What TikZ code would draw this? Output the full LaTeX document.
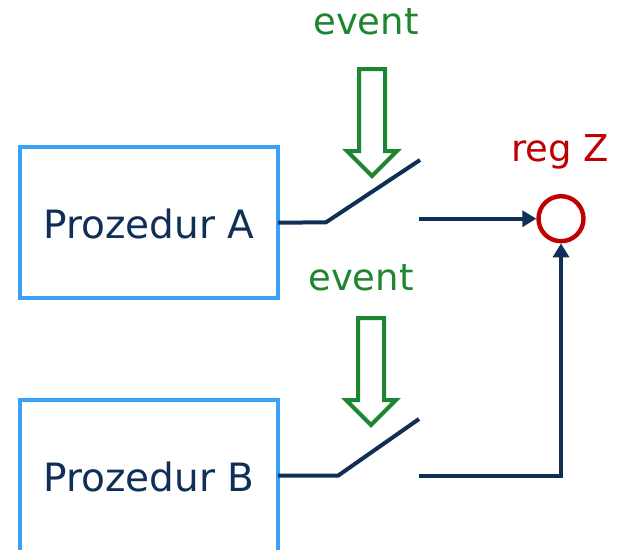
\documentclass[tikz,border=0pt]{standalone}
\usepackage{fontspec}
\setmainfont{DejaVu Sans}
\usetikzlibrary{arrows.meta}
\definecolor{navy}{HTML}{0F2F57}
\definecolor{boxblue}{HTML}{3BA0F8}
\definecolor{evgreen}{HTML}{1E8530}
\definecolor{regred}{HTML}{C00000}
\tikzset{
 x=1pt,y=-1pt,
 wire/.style={draw=navy,line width=4pt},
 conn/.style={wire,-{Triangle[length=14pt,width=16pt]}},
 procbox/.style={draw=boxblue,line width=4.2pt,fill=white,anchor=north west,inner sep=0pt,minimum width=258pt,minimum height=151pt},
 lab/.style={font=\fontsize{39}{44}\selectfont,inner sep=0pt,text=navy},
 evlab/.style={font=\fontsize{37}{42}\selectfont,inner sep=0pt,text=evgreen},
 evarrow/.style={draw=evgreen,line width=4pt,fill=white,line join=miter},
}
\begin{document}
\begin{tikzpicture}
\useasboundingbox (0,0) rectangle (617,549);
\begin{scope}
\clip (0,0) rectangle (617,549);
\node[procbox] (A) at (18,145) {};
\node[procbox,minimum height=175pt] (B) at (18,398) {};
\end{scope}
\node[lab] (la) at (149,224) {Prozedur A};
\node[lab] (lb) at (149,477) {Prozedur B};
\node[evlab] (e1) at (366,22) {event};
\node[evlab] (e2) at (361,278) {event};
\node[font=\fontsize{37}{42}\selectfont,inner sep=0pt,text=regred] (rz) at (560,152) {reg Z};
\node[circle,draw=regred,line width=4.4pt,minimum size=45pt,inner sep=0pt] (reg) at (561,218.7) {};
\coordinate (a1) at (278,222.7);
\coordinate (a2) at (326,222.3);
\coordinate (a3) at (420,160);
\coordinate (a4) at (419,218.7);
\coordinate (b1) at (278,475.7);
\coordinate (b2) at (338,475.7);
\coordinate (b3) at (419,419);
\coordinate (b4) at (419,475.5);
\coordinate (b5) at (561,475.5);
\draw[wire,line join=round] (a1) -- (a2) -- (a3);
\draw[wire,line join=round] (b1) -- (b2) -- (b3);
\draw[conn] (a4) -- (reg.west);
\draw[conn] (b4) -- (b5) -- (reg.south);
\draw[evarrow] (359,69) -- (385,69) -- (385,151) -- (397,151) -- (372,176) -- (347,151) -- (359,151) -- cycle;
\draw[evarrow] (358,318) -- (384,318) -- (384,400) -- (396,400) -- (371,425) -- (346,400) -- (358,400) -- cycle;
\end{tikzpicture}
\end{document}
